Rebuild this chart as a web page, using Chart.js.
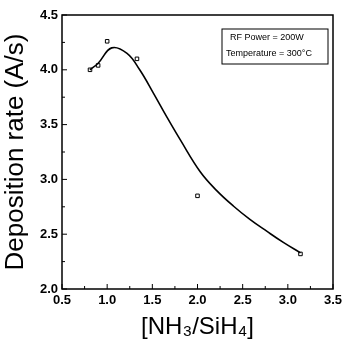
<!DOCTYPE html>
<html>
<head>
<meta charset="utf-8">
<script src="https://cdn.jsdelivr.net/npm/chart.js@4"></script>
<style>
  html, body { margin: 0; padding: 0; background: #fff; }
  #wrap { width: 347px; height: 343px; }
</style>
</head>
<body>
<div id="wrap"><canvas id="depChart" width="347" height="343"></canvas></div>
<script>
// measured points
const ratio = [0.81, 0.90, 1.00, 1.33, 2.00, 3.14];
const rate = [4.00, 4.04, 4.26, 4.10, 2.85, 2.32];

// fitted curve
const fitX = [0.81, 0.90, 1.05, 1.22, 1.36, 1.51, 1.66, 1.81, 2.03, 2.21, 2.40, 2.58, 2.77, 2.95, 3.14];
const fitY = [4.00, 4.06, 4.20, 4.15, 4.00, 3.79, 3.57, 3.36, 3.07, 2.90, 2.755, 2.635, 2.525, 2.425, 2.33];

const xTicks = [0.5, 1.0, 1.5, 2.0, 2.5, 3.0, 3.5];
const yTicks = [2.0, 2.5, 3.0, 3.5, 4.0, 4.5];
const noteLines = ['RF Power = 200W', 'Temperature = 300°C'];

const font = '"Liberation Sans", Arial, sans-serif';

// frame, inward ticks and the note box
const frame = {
  id: 'frame',
  afterDraw(chart) {
    const { ctx, chartArea: a, scales } = chart;
    ctx.save();
    ctx.strokeStyle = '#000';
    ctx.lineWidth = 1.5;
    ctx.strokeRect(a.left, a.top, a.right - a.left, a.bottom - a.top);
    ctx.lineWidth = 1;
    ctx.beginPath();
    xTicks.forEach((v, i) => {
      const px = scales.x.getPixelForValue(v);
      ctx.moveTo(px, a.bottom); ctx.lineTo(px, a.bottom - 5);
      if (i < xTicks.length - 1) {
        const mx = scales.x.getPixelForValue(v + 0.25);
        ctx.moveTo(mx, a.bottom); ctx.lineTo(mx, a.bottom - 3);
      }
    });
    yTicks.forEach((v, i) => {
      const py = scales.y.getPixelForValue(v);
      ctx.moveTo(a.left, py); ctx.lineTo(a.left + 5, py);
      if (i < yTicks.length - 1) {
        const my = scales.y.getPixelForValue(v + 0.25);
        ctx.moveTo(a.left, my); ctx.lineTo(a.left + 3, my);
      }
    });
    ctx.stroke();

    // note box
    const bx = 222, by = 29, bw = 106, bh = 35;
    ctx.lineWidth = 1;
    ctx.strokeRect(bx, by, bw, bh);
    ctx.fillStyle = '#000';
    ctx.font = '9px ' + font;
    ctx.textBaseline = 'middle';
    ctx.fillText(noteLines[0], bx + 8, by + 9);
    ctx.fillText(noteLines[1], bx + 4, by + 25);
    ctx.restore();
  }
};

new Chart(document.getElementById('depChart'), {
  type: 'scatter',
  data: {
    datasets: [
      {
        label: 'fit',
        data: fitX.map((x, i) => ({ x: x, y: fitY[i] })),
        showLine: true,
        borderColor: '#000',
        borderWidth: 1.6,
        pointRadius: 0,
        tension: 0.4,
        fill: false
      },
      {
        label: 'data',
        data: ratio.map((x, i) => ({ x: x, y: rate[i] })),
        pointStyle: 'rect',
        pointRadius: 2.5,
        pointBorderWidth: 1,
        pointBorderColor: '#000',
        pointBackgroundColor: '#fff'
      }
    ]
  },
  options: {
    responsive: false,
    animation: false,
    layout: { padding: { top: 15, right: 14, left: 0, bottom: 0 } },
    plugins: { legend: { display: false }, tooltip: { enabled: false } },
    scales: {
      x: {
        type: 'linear',
        min: 0.5, max: 3.5,
        afterBuildTicks: s => { s.ticks = xTicks.map(v => ({ value: v })); },
        afterFit: s => { s.height = 54; },
        grid: { display: false, drawTicks: false },
        border: { display: false },
        ticks: {
          color: '#000', padding: 4,
          font: { family: font, size: 13, weight: 'bold' },
          callback: v => v.toFixed(1)
        },
        title: {
          display: true, text: '[NH₃/SiH₄]', color: '#000',
          font: { family: font, size: 24 }, padding: { top: 0, bottom: 1 }
        }
      },
      y: {
        min: 2.0, max: 4.5,
        afterBuildTicks: s => { s.ticks = yTicks.map(v => ({ value: v })); },
        afterFit: s => { s.width = 62; },
        grid: { display: false, drawTicks: false },
        border: { display: false },
        ticks: {
          color: '#000', padding: 4,
          font: { family: font, size: 13, weight: 'bold' },
          callback: v => v.toFixed(1)
        },
        title: {
          display: true, text: 'Deposition rate (A/s)', color: '#000',
          font: { family: font, size: 26 }, padding: { top: 0, bottom: 0 }
        }
      }
    }
  },
  plugins: [frame]
});
</script>
</body>
</html>
